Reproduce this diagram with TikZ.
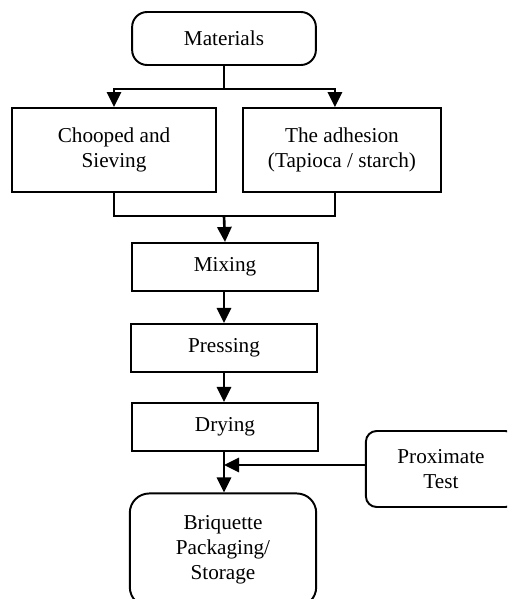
\documentclass[tikz,border=0pt]{standalone}
\usepackage{fontspec}
\setmainfont{Liberation Serif}
\usetikzlibrary{arrows.meta,positioning}

\begin{document}
\begin{tikzpicture}[x=0.566pt,y=-0.566pt,
    >={Triangle[length=8.5pt,width=8pt]},
    box/.style={draw,rectangle,line width=1.1pt,align=center,inner sep=0pt,
      font=\fontsize{12}{14.2}\selectfont,minimum width=105.5pt,minimum height=27.2pt},
    term/.style={box,rounded corners=8.5pt},
    flow/.style={line width=1.5pt}]
  \clip (0,0) rectangle (507,599);
  \node[term,minimum width=104pt,minimum height=30pt] (mat) at (224,38.5) {Materials};
  \node[box,minimum width=115.5pt,minimum height=47.5pt] (chop) at (114,150) {Chooped and\\Sieving};
  \node[box,minimum width=112pt,minimum height=47.5pt] (adh) at (342,150) {The adhesion\\(Tapioca / starch)};
  \node[box] (mix) at (225,267) {Mixing};
  \node[box] (press) at (224,348) {Pressing};
  \node[box] (dry) at (225,427) {Drying};
  \node[box,rounded corners=6pt,minimum width=85pt,minimum height=43pt] (prox) at (441,469) {Proximate\\Test};
  \node[term,rounded corners=11pt,minimum height=64pt] (briq) at (223,550) {Briquette\\Packaging/\\Storage};
  % branches
  \draw[flow] (mat.south) -- ++(0,23) coordinate (split);
  \draw[flow,->] (split) -| (chop.north);
  \draw[flow,->] (split) -| ([xshift=-4pt]adh.north);
  \draw[flow] (chop.south) -- ++(0,23) coordinate (join) -| ([xshift=-4pt]adh.south);
  \draw[flow,->] (join -| mat.south) -- (mix.north);
  \draw[flow,->] (mix.south -| press.north) -- (press.north);
  \draw[flow,->] (press.south) -- (press.south |- dry.north);
  \draw[flow,->] (dry.south -| press.south) -- (briq.north -| press.south);
  \draw[flow,->] (prox.west |- 0,465) -- (press.south |- 0,465);
\end{tikzpicture}
\end{document}
